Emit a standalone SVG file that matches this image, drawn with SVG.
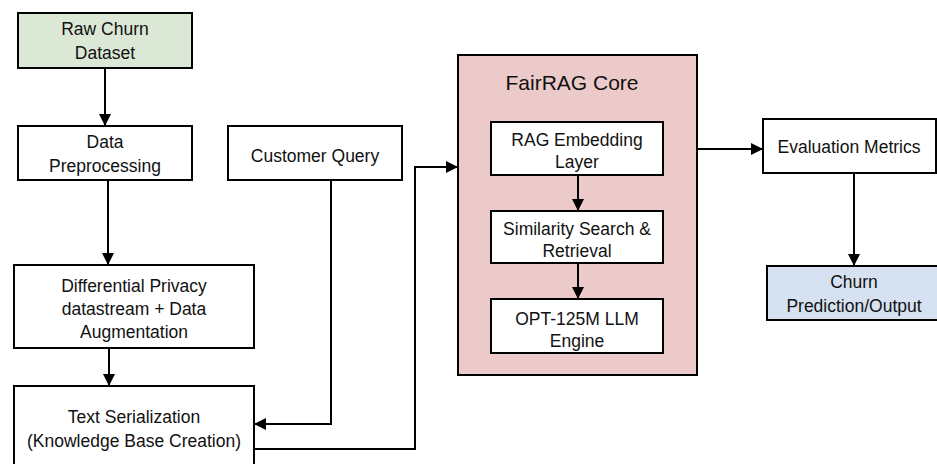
<svg xmlns="http://www.w3.org/2000/svg" width="937" height="464" viewBox="0 0 937 464">
<style>
.box{fill:#fff;stroke:#000;stroke-width:2}
.t{font-family:"Liberation Sans",Arial,sans-serif;font-size:17.5px;fill:#111;text-anchor:middle}
.c{fill:none;stroke:#000;stroke-width:2}
</style>
<defs>
<marker id="ah" markerUnits="userSpaceOnUse" markerWidth="12" markerHeight="12" viewBox="0 0 12 12" refX="12" refY="6" orient="auto">
<path d="M0,0 L12,6 L0,12 Z" fill="#000"/>
</marker>
</defs>
<rect width="937" height="464" fill="#fff"/>
<g id="raw">
<rect class="box" x="18" y="13" width="174" height="55" style="fill:#dbe8d5"/>
<text class="t" x="105" y="35">Raw Churn</text>
<text class="t" x="105" y="59">Dataset</text>
</g>
<g id="prep">
<rect class="box" x="18" y="126" width="174" height="54"/>
<text class="t" x="105" y="148">Data</text>
<text class="t" x="105" y="172">Preprocessing</text>
</g>
<g id="dp">
<rect class="box" x="14" y="265" width="240" height="83"/>
<text class="t" x="134" y="292">Differential Privacy</text>
<text class="t" x="134" y="315">datastream + Data</text>
<text class="t" x="134" y="338">Augmentation</text>
</g>
<g id="ser">
<rect class="box" x="14" y="386" width="240" height="90"/>
<text class="t" x="134" y="423">Text Serialization</text>
<text class="t" x="134" y="447">(Knowledge Base Creation)</text>
</g>
<g id="query">
<rect class="box" x="228" y="126" width="174" height="54"/>
<text class="t" x="315" y="162">Customer Query</text>
</g>
<g id="core">
<rect class="box" x="458" y="55" width="239" height="320" style="fill:#eccaca"/>
<text class="t" x="572" y="90" style="font-size:21px">FairRAG Core</text>
</g>
<g id="emb">
<rect class="box" x="491" y="122" width="172" height="53"/>
<text class="t" x="577" y="146">RAG Embedding</text>
<text class="t" x="577" y="168">Layer</text>
</g>
<g id="sim">
<rect class="box" x="491" y="211" width="172" height="52"/>
<text class="t" x="577" y="235">Similarity Search &amp;</text>
<text class="t" x="577" y="257">Retrieval</text>
</g>
<g id="opt">
<rect class="box" x="491" y="299" width="172" height="54"/>
<text class="t" x="577" y="325">OPT-125M LLM</text>
<text class="t" x="577" y="347">Engine</text>
</g>
<g id="eval">
<rect class="box" x="763" y="119" width="173" height="54"/>
<text class="t" x="849" y="153">Evaluation Metrics</text>
</g>
<g id="out">
<rect class="box" x="767" y="266" width="178" height="54" style="fill:#d6e2f1"/>
<text class="t" x="854" y="288">Churn</text>
<text class="t" x="854" y="312">Prediction/Output</text>
</g>
<g id="connectors">
<path class="c" d="M105,68 V126" marker-end="url(#ah)"/>
<path class="c" d="M108,180 V265" marker-end="url(#ah)"/>
<path class="c" d="M109,348 V386" marker-end="url(#ah)"/>
<path class="c" d="M331,180 V424 H254" marker-end="url(#ah)"/>
<path class="c" d="M254,449 H415 V167 H458" marker-end="url(#ah)"/>
<path class="c" d="M578,175 V211" marker-end="url(#ah)"/>
<path class="c" d="M578,263 V299" marker-end="url(#ah)"/>
<path class="c" d="M697,149 H763" marker-end="url(#ah)"/>
<path class="c" d="M854,173 V266" marker-end="url(#ah)"/>
</g>
</svg>
